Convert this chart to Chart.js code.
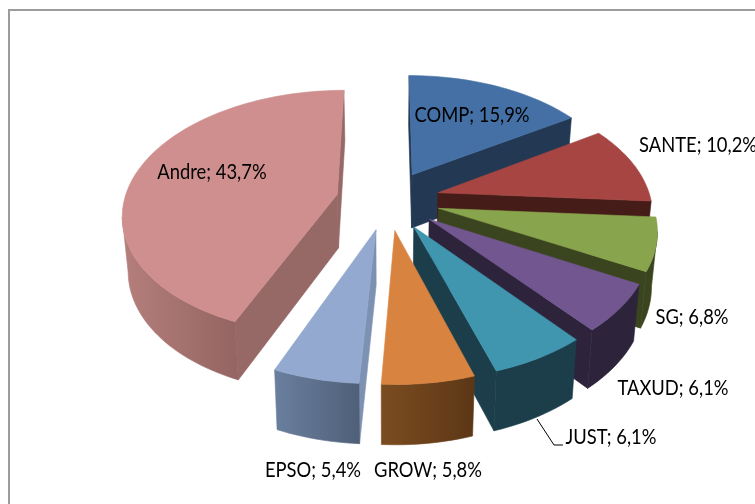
<!DOCTYPE html>
<html>
<head>
<meta charset="utf-8">
<title>Pie</title>
<script src="https://cdn.jsdelivr.net/npm/chart.js@4/dist/chart.umd.min.js"></script>
<style>
  html, body { margin: 0; padding: 0; background: #fff; overflow: hidden; }
  canvas { display: block; }
</style>
</head>
<body>
<canvas id="pie" width="755" height="504"></canvas>
<script>
// Data
const categories = ['COMP', 'SANTE', 'SG', 'TAXUD', 'JUST', 'GROW', 'EPSO', 'Andre'];
const shares = [15.9, 10.2, 6.8, 6.1, 6.1, 5.8, 5.4, 43.7];

// Slice colours
const topColors = ['#4470A6', '#A64542', '#88A44C', '#725690', '#4096AE', '#D98340', '#94A9CF', '#CE8F8E'];
const sideColors = ['#223853', '#451C18', '#3A441F', '#2D233B', '#1B3E4A', '#1B3E4A', '#7D91B3', '#966866'];
const wallLeft = ['#223853', '#451C18', '#3A441F', '#2D233B', '#1B3E4A', '#7B4C20', '#6A7F9F', '#B57F7B'];
const wallRight = ['#223853', '#451C18', '#3A441F', '#2D233B', '#1B3E4A', '#5C3716', '#4F6078', '#946563'];

// Label centres
const labelX = [472, 698, 692, 673, 611, 428, 313, 212];
const labelY = [115, 145, 317, 388, 437, 470, 470, 172];

const RADIUS = 213;
const EXPLODE = 52;
const TILT = 121;    // vertical size of the pie plane
const PERSP = 0.149; // how much the front grows

function project(arc, angle, onRim) {
    const mid = (arc.startAngle + arc.endAngle) / 2;
    const offset = arc.options.offset / RADIUS;
    // plane coords, v points to the viewer
    let u = Math.cos(mid) * offset;
    let v = Math.sin(mid) * offset;
    if (onRim) {
        u += Math.cos(angle);
        v += Math.sin(angle);
    }
    const f = 1 / (1 - PERSP * v);
    return { x: arc.x + RADIUS * u * f, y: arc.y + TILT * v * f, f };
}

function lower(arc, p) {
    return { x: arc.x + (p.x - arc.x) * 0.978, y: p.y + 26 + 28 * p.f };
}

function fillPoly(ctx, pts, color) {
    ctx.beginPath();
    pts.forEach((p, i) => i ? ctx.lineTo(p.x, p.y) : ctx.moveTo(p.x, p.y));
    ctx.closePath();
    ctx.fillStyle = color;
    ctx.strokeStyle = color;
    ctx.lineWidth = 0.6;
    ctx.fill();
    ctx.stroke();
}

function drawWall(ctx, arc, a, b, color) {
    if (b.x >= a.x) return; // faces away
    fillPoly(ctx, [a, b, lower(arc, b), lower(arc, a)], color);
}

function drawSlice(ctx, arc, i) {
    const apex = project(arc, 0, false);
    const rim = [];
    const steps = Math.max(4, Math.ceil((arc.endAngle - arc.startAngle) / 0.03));
    for (let s = 0; s <= steps; s++) {
        rim.push(project(arc, arc.startAngle + (arc.endAngle - arc.startAngle) * s / steps, true));
    }

    drawWall(ctx, arc, apex, rim[0], sideColors[i]);
    drawWall(ctx, arc, rim[steps], apex, sideColors[i]);

    // outer wall, shaded left to right over its visible part
    const seen = rim.filter((p, s) =>
        (s < steps && rim[s + 1].x < p.x) || (s > 0 && p.x < rim[s - 1].x));
    if (seen.length) {
        const xs = seen.map(p => p.x);
        const grad = ctx.createLinearGradient(Math.min(...xs), 0, Math.max(...xs), 0);
        grad.addColorStop(0, wallLeft[i]);
        grad.addColorStop(1, wallRight[i]);
        fillPoly(ctx, [...seen, ...seen.slice().reverse().map(p => lower(arc, p))], grad);
    }

    fillPoly(ctx, [apex, ...rim], arc.options.backgroundColor);
}

const pie3d = {
    id: 'pie3d',
    beforeDraw(chart) {
        const ctx = chart.ctx;
        ctx.save();
        ctx.strokeStyle = '#9C9C9C';
        ctx.lineWidth = 2;
        ctx.strokeRect(9, 10, 900, 700);
        ctx.restore();
    },
    beforeDatasetsDraw(chart) {
        const ctx = chart.ctx;
        const arcs = chart.getDatasetMeta(0).data;
        const order = arcs.map((arc, i) => i).sort((a, b) => {
            const mid = arc => (arc.startAngle + arc.endAngle) / 2;
            return Math.sin(mid(arcs[a])) - Math.sin(mid(arcs[b]));
        });
        ctx.save();
        order.forEach(i => drawSlice(ctx, arcs[i], i));

        // leader line of JUST
        ctx.strokeStyle = '#000';
        ctx.lineWidth = 1;
        ctx.beginPath();
        ctx.moveTo(537, 419);
        ctx.lineTo(554, 445);
        ctx.lineTo(563, 445);
        ctx.stroke();

        ctx.fillStyle = '#000';
        ctx.font = '21px Lato';
        ctx.textAlign = 'center';
        ctx.textBaseline = 'middle';
        categories.forEach((name, i) => {
            const text = name + '; ' + shares[i].toFixed(1).replace('.', ',') + '%';
            const w = ctx.measureText(text).width * 0.875;
            ctx.fillText(text, labelX[i], labelY[i], w);
        });
        ctx.restore();
        return false;
    }
};

new Chart(document.getElementById('pie'), {
    type: 'pie',
    data: {
        labels: categories,
        datasets: [{
            data: shares,
            backgroundColor: topColors,
            offset: EXPLODE,
            borderWidth: 0
        }]
    },
    options: {
        responsive: false,
        animation: false,
        radius: RADIUS,
        layout: { padding: { left: 21, bottom: 104 } },
        plugins: { legend: { display: false }, tooltip: { enabled: false } }
    },
    plugins: [pie3d]
});
</script>
</body>
</html>
